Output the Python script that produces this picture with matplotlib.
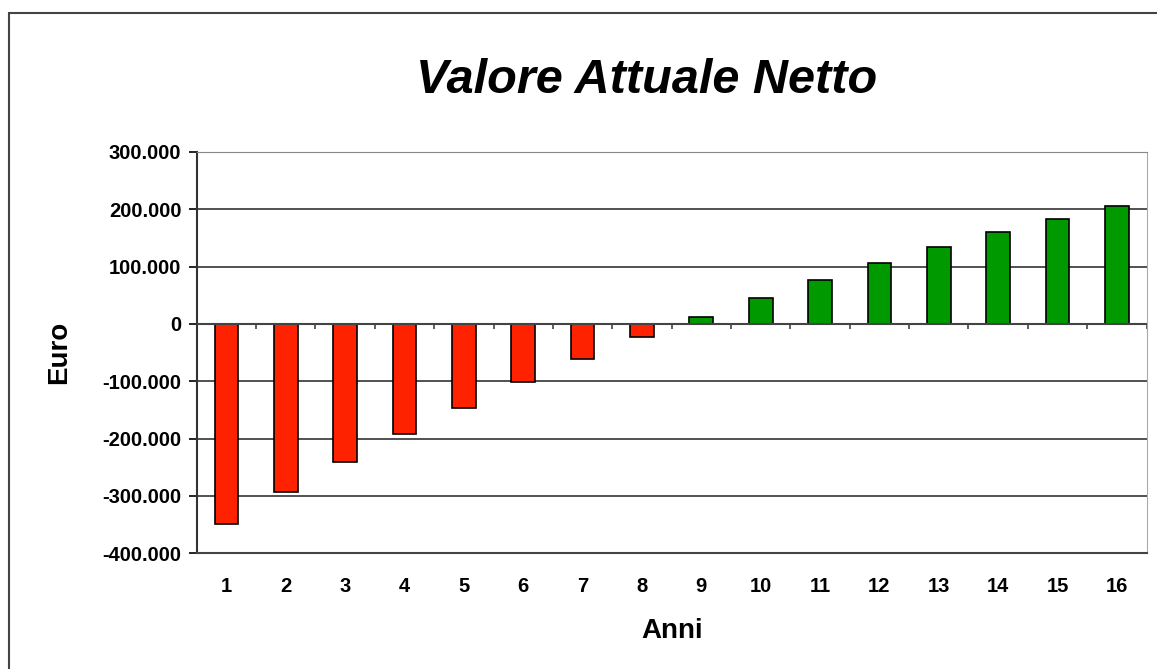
import matplotlib.pyplot as plt
from matplotlib.ticker import FuncFormatter
from matplotlib.patches import Rectangle

plt.rcParams['font.family'] = ['Liberation Sans', 'DejaVu Sans']

anni = list(range(1, 17))
van = [-349000, -293000, -241000, -192000, -147000, -101000, -61000, -23000,
       12000, 45000, 77000, 106000, 134000, 160000, 183000, 206000]

colori = ['#ff2200' if v < 0 else '#009900' for v in van]

fig = plt.figure(figsize=(11.57, 6.69), dpi=100)
ax = fig.add_axes([0.170, 0.173, 0.821, 0.600])

ax.bar(anni, van, width=0.4, color=colori, edgecolor='black', linewidth=1.2, zorder=3)

ax.set_xlim(0.5, 16.5)
ax.set_ylim(-400000, 300000)
ax.set_yticks(range(-400000, 300001, 100000))
ax.yaxis.set_major_formatter(FuncFormatter(lambda v, p: f'{int(v):,}'.replace(',', '.')))
ax.grid(axis='y', color='#333333', linewidth=1.2, zorder=1)

ax.set_xticks(anni)
ax.tick_params(axis='x', length=0, pad=17, labelsize=14.5)
ax.tick_params(axis='y', length=6, width=1.2, pad=5, labelsize=14.5, direction='out')
for lab in ax.get_xticklabels() + ax.get_yticklabels():
    lab.set_fontweight('bold')

# linea dello zero con tacche tra le categorie
ax.axhline(0, color='#444444', linewidth=1.5, zorder=4)
bordi = [a + 0.5 for a in anni]
ax.vlines(bordi, -9000, 0, color='#444444', linewidth=1.2, zorder=4)

ax.spines['left'].set_color('#333333')
ax.spines['left'].set_linewidth(1.5)
ax.spines['bottom'].set_color('#444444')
ax.spines['bottom'].set_linewidth(1.5)
ax.spines['top'].set_color('#888888')
ax.spines['right'].set_color('#aaaaaa')

ax.set_ylabel('Euro', fontsize=20, fontweight='bold', labelpad=22)
ax.set_xlabel('Anni', fontsize=20, fontweight='bold', labelpad=16)

fig.text(0.559, 0.880, 'Valore Attuale Netto', fontsize=35, fontweight='bold',
         fontstyle='italic', ha='center', va='center')

# cornice esterna
fig.patches.append(Rectangle((0.008, -0.05), 1.1, 1.0306, transform=fig.transFigure,
                             fill=False, edgecolor='#444444', linewidth=1.5))

fig.savefig('out.png', dpi=100, facecolor='white')
